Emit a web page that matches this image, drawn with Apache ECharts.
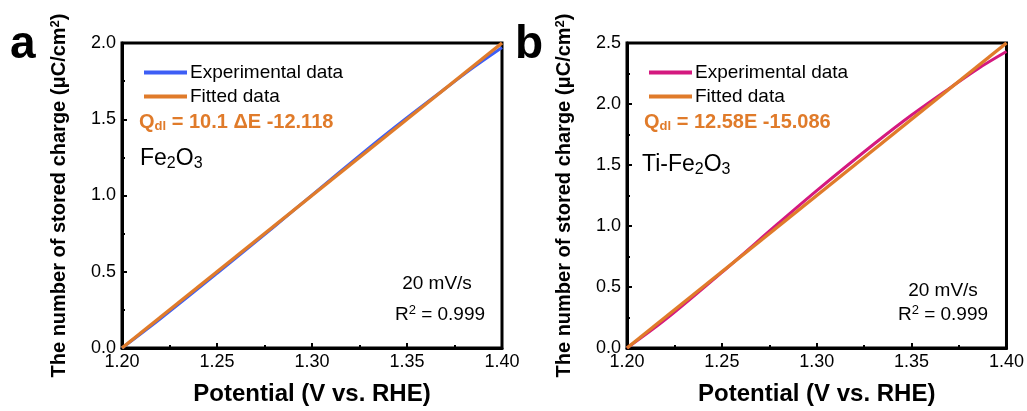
<!DOCTYPE html>
<html><head><meta charset="utf-8">
<script src="https://cdn.jsdelivr.net/npm/echarts@6/dist/echarts.min.js"></script>
<style>html,body{margin:0;padding:0;background:#fff}#c{width:1027px;height:411px}</style>
</head><body><div id="c"></div>
<script>
// Panel a (Fe2O3)
const expA = [[1.20,0.00],[1.22,0.19],[1.25,0.49],[1.28,0.795],[1.30,1.003],[1.33,1.312],[1.35,1.51],[1.37,1.70],[1.385,1.84],[1.40,1.97]];
const fitA = [[1.20,0.00],[1.40,2.00]];
// Panel b (Ti-Fe2O3)
const expB = [[1.20,0.00],[1.22,0.23],[1.25,0.62],[1.28,1.025],[1.30,1.29],[1.33,1.67],[1.35,1.91],[1.37,2.13],[1.385,2.29],[1.40,2.43]];
const fitB = [[1.20,0.00],[1.40,2.50]];
const yMaxA = 2.0, yMaxB = 2.5;

const FONT = 'Liberation Sans, Arial, sans-serif';
const chart = echarts.init(document.getElementById('c'), null, {renderer:'canvas'});

function xAx(i){
  return {type:'value', gridIndex:i, min:1.2, max:1.4, interval:0.05,
    axisLabel:{formatter:v=>v.toFixed(2), color:'#000', fontSize:18, fontFamily:FONT, margin:5},
    axisLine:{show:true, lineStyle:{color:'#000', width:3}},
    axisTick:{show:true, inside:true, length:5, lineStyle:{color:'#000', width:2}},
    minorTick:{show:true, splitNumber:2, length:3, lineStyle:{color:'#000', width:2}},
    splitLine:{show:false},
    name:'Potential (V vs. RHE)', nameLocation:'middle', nameGap:34,
    nameTextStyle:{fontSize:24, fontWeight:'bold', color:'#000', fontFamily:FONT}};
}
function yAx(i,max){
  return {type:'value', gridIndex:i, min:0, max:max, interval:0.5,
    axisLabel:{formatter:v=>v.toFixed(1), color:'#000', fontSize:18, fontFamily:FONT, margin:6},
    axisLine:{show:true, lineStyle:{color:'#000', width:3}},
    axisTick:{show:true, inside:true, length:5, lineStyle:{color:'#000', width:2}},
    minorTick:{show:true, splitNumber:2, length:3, lineStyle:{color:'#000', width:2}},
    splitLine:{show:false},
    name:'The number of stored charge (μC/cm{s|2})', nameLocation:'middle', nameGap:53,
    nameTextStyle:{fontSize:20, fontWeight:'bold', color:'#000', fontFamily:FONT,
      rich:{s:{fontSize:13, fontWeight:'bold', verticalAlign:'top', color:'#000', fontFamily:FONT, lineHeight:12}}}};
}
function grid(left){
  return {left:left, top:43, width:380, height:306, show:true, borderColor:'#000', borderWidth:3, backgroundColor:'transparent'};
}
function legend(left,names){
  return {show:true, orient:'vertical', left:left, top:58, itemWidth:43, itemHeight:4, itemGap:5,
    icon:'rect', data:names, textStyle:{fontSize:19, color:'#000', fontFamily:FONT, padding:[0,0,0,-2]}};
}
function txt(x,y,text,style){
  return {type:'text', x:x, y:y, z:100, style:Object.assign({text:text, fill:'#000', fontFamily:FONT, fontSize:19}, style||{})};
}
const orange = '#e07b2a';
const subRich = {
  d:{fontSize:13, fontWeight:'bold', fill:orange, color:orange, fontFamily:FONT, padding:[9,0,0,0]},
  b:{fontSize:20, fontWeight:'bold', fill:orange, color:orange, fontFamily:FONT}
};
const chemRich = {
  n:{fontSize:23, fontFamily:FONT, color:'#000'},
  s:{fontSize:16, fontFamily:FONT, color:'#000', padding:[11,0,0,0]}
};
const rRich = {
  n:{fontSize:19, fontFamily:FONT, color:'#000'},
  p:{fontSize:13, fontFamily:FONT, color:'#000', padding:[0,0,9,0]}
};

chart.setOption({
  animation:false,
  grid:[grid(122), grid(627)],
  xAxis:[xAx(0), xAx(1)],
  yAxis:[yAx(0,yMaxA), yAx(1,yMaxB)],
  legend:[
    legend(139,[{name:'Experimental data '},{name:'Fitted data '}]),
    legend(644,[{name:'Experimental data'},{name:'Fitted data'}])
  ],
  series:[
    {name:'Experimental data ', type:'line', xAxisIndex:0, yAxisIndex:0, data:expA, showSymbol:false, smooth:0.3, lineStyle:{color:'#3d5ef5', width:3}, itemStyle:{color:'#3d5ef5'}, z:2},
    {name:'Fitted data ', type:'line', xAxisIndex:0, yAxisIndex:0, data:fitA, showSymbol:false, lineStyle:{color:orange, width:3.5}, itemStyle:{color:orange}, z:3},
    {name:'Experimental data', type:'line', xAxisIndex:1, yAxisIndex:1, data:expB, showSymbol:false, smooth:0.3, lineStyle:{color:'#d4197f', width:3}, itemStyle:{color:'#d4197f'}, z:2},
    {name:'Fitted data', type:'line', xAxisIndex:1, yAxisIndex:1, data:fitB, showSymbol:false, lineStyle:{color:orange, width:3.5}, itemStyle:{color:orange}, z:3}
  ],
  graphic:[
    txt(10,22,'a',{fontSize:46, fontWeight:'bold'}),
    txt(515,22,'b',{fontSize:46, fontWeight:'bold'}),
    {type:'text', x:139, y:111, z:100, style:{text:'{b|Q}{d|dl}{b| = 10.1 ΔE -12.118}', rich:subRich, fontFamily:FONT}},
    {type:'text', x:644, y:111, z:100, style:{text:'{b|Q}{d|dl}{b| = 12.58E -15.086}', rich:subRich, fontFamily:FONT}},
    {type:'text', x:140, y:145, z:100, style:{text:'{n|Fe}{s|2}{n|O}{s|3}', rich:chemRich, fontFamily:FONT}},
    {type:'text', x:642, y:151, z:100, style:{text:'{n|Ti-Fe}{s|2}{n|O}{s|3}', rich:chemRich, fontFamily:FONT}},
    txt(437,274,'20 mV/s',{align:'center'}),
    {type:'text', x:440, y:304, z:100, style:{text:'{n|R}{p|2}{n| = 0.999}', rich:rRich, fontFamily:FONT, align:'center'}},
    txt(943,281,'20 mV/s',{align:'center'}),
    {type:'text', x:943, y:304, z:100, style:{text:'{n|R}{p|2}{n| = 0.999}', rich:rRich, fontFamily:FONT, align:'center'}}
  ]
});
</script></body></html>
